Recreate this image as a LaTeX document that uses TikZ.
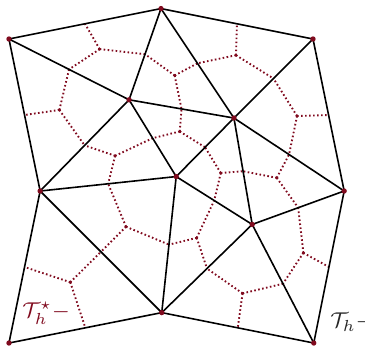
\documentclass[tikz,border=0pt]{standalone}
\usepackage{amsmath, amssymb}
\usepackage{xcolor}
\usepackage{tikz}
\usetikzlibrary{calc}
\definecolor{dualred}{RGB}{128, 10, 30}

\begin{document}
\begin{tikzpicture}[>=stealth,
    edge/.style={semithick},
    dual/.style={dualred, line width=0.7pt, dash pattern=on 0.6pt off 0.9pt},
    vert/.style={circle, fill=dualred, inner sep=0pt, minimum size=2pt}]
    \useasboundingbox (-0.118,-0.04) rectangle (4.684,4.513);
    % primal mesh vertices
    \coordinate (A) at (0,4);
    \coordinate (B) at (2,4.4);
    \coordinate (C) at (4,4);
    \coordinate (D) at (1.58,3.2);
    \coordinate (E) at (2.96,2.96);
    \coordinate (F) at (0.41,2);
    \coordinate (G) at (2.2,2.19);
    \coordinate (H) at (4.41,2);
    \coordinate (I) at (3.2,1.56);
    \coordinate (J) at (0,0);
    \coordinate (K) at (2.01,0.4);
    \coordinate (L) at (4.01,0);
    % dual mesh: centroid to edge midpoints
    \foreach \p/\q/\r in {A/B/D, B/D/E, B/C/E, C/E/H, D/E/G, A/D/F, D/F/G,
                          E/G/I, E/H/I, F/G/K, F/J/K, G/I/K, I/K/L, H/I/L} {
        \coordinate (g\p\q\r) at (barycentric cs:\p=1,\q=1,\r=1);
        \draw[dual] (g\p\q\r) -- ($(\p)!0.5!(\q)$);
        \draw[dual] (g\p\q\r) -- ($(\q)!0.5!(\r)$);
        \draw[dual] (g\p\q\r) -- ($(\p)!0.5!(\r)$);
        \fill[dualred] (g\p\q\r) circle (0.6pt);
    }
    % primal mesh edges
    \foreach \p/\q in {A/B, B/C, C/H, H/L, L/K, K/J, J/F, F/A,
                       A/D, B/D, B/E, C/E, D/E, D/F, D/G, E/G, E/H, E/I,
                       F/G, F/K, G/I, G/K, I/K, I/H, I/L}
        \draw[edge] (\p) -- (\q);
    \foreach \p in {A,B,C,D,E,F,G,H,I,J,K,L}
        \node[vert] (v\p) at (\p) {};
    \node[dualred, anchor=base west, inner sep=0pt, font=\footnotesize] (tstar) at (0.17,0.34) {$\mathcal{T}_h^{\star}-$};
    \node[black!85, anchor=base west, inner sep=0pt, font=\footnotesize] (th) at (4.22,0.2) {$\mathcal{T}_h-$};
\end{tikzpicture}
\end{document}
